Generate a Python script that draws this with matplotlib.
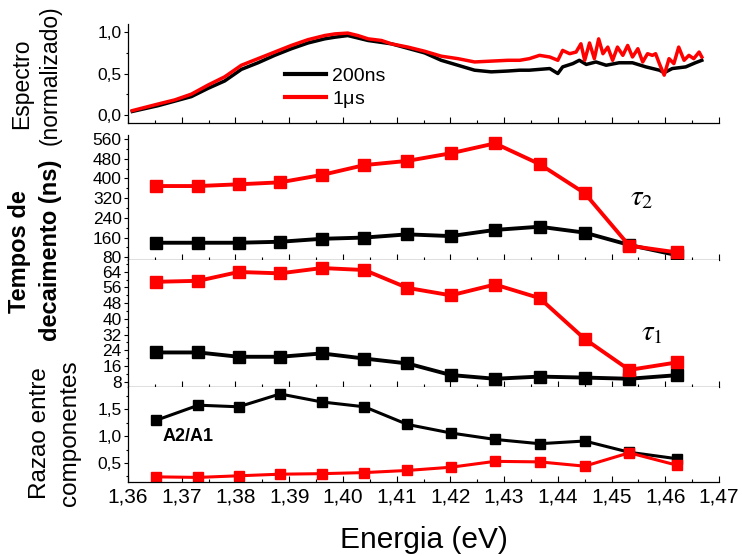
import numpy as np
import matplotlib.pyplot as plt
from matplotlib.ticker import MultipleLocator, FuncFormatter

plt.rcParams['font.family'] = ['Liberation Sans', 'DejaVu Sans']
plt.rcParams['mathtext.fontset'] = 'stix'

# spectra (normalized)
spec_E_200 = [1.3608, 1.3656, 1.3718, 1.3749, 1.3780, 1.3811, 1.3842, 1.3873, 1.3904, 1.3935,
              1.3966, 1.3985, 1.4009, 1.4047, 1.4090, 1.4152, 1.4183, 1.4214, 1.4245, 1.4276,
              1.4307, 1.4329, 1.4347, 1.4366, 1.4385, 1.4400, 1.4409, 1.4428, 1.4440, 1.4453,
              1.4471, 1.4490, 1.4514, 1.4539, 1.4564, 1.4589, 1.4598, 1.4613, 1.4638, 1.4656,
              1.4668]
spec_200 = [0.04, 0.11, 0.22, 0.32, 0.41, 0.55, 0.63, 0.72, 0.80, 0.87,
            0.92, 0.94, 0.96, 0.90, 0.86, 0.75, 0.66, 0.60, 0.54, 0.52,
            0.53, 0.54, 0.54, 0.55, 0.56, 0.50, 0.58, 0.62, 0.66, 0.61,
            0.64, 0.60, 0.63, 0.63, 0.58, 0.54, 0.51, 0.56, 0.58, 0.63,
            0.66]
spec_E_1us = [1.3608, 1.3632, 1.3656, 1.3687, 1.3718, 1.3749, 1.3780, 1.3811, 1.3842, 1.3873,
              1.3904, 1.3935, 1.3966, 1.3985, 1.4009, 1.4028, 1.4047, 1.4072, 1.4090, 1.4121,
              1.4152, 1.4183, 1.4214, 1.4245, 1.4276, 1.4307, 1.4329, 1.4347, 1.4366, 1.4385,
              1.4400, 1.4409, 1.4422, 1.4434, 1.4443, 1.4450, 1.4459, 1.4468, 1.4476, 1.4484,
              1.4493, 1.4502, 1.4511, 1.4521, 1.4530, 1.4539, 1.4549, 1.4558, 1.4567, 1.4576,
              1.4582, 1.4589, 1.4598, 1.4607, 1.4616, 1.4625, 1.4635, 1.4644, 1.4653, 1.4663,
              1.4668]
spec_1us = [0.05, 0.09, 0.13, 0.18, 0.25, 0.36, 0.46, 0.60, 0.68, 0.76,
            0.84, 0.91, 0.96, 0.98, 0.99, 0.96, 0.92, 0.90, 0.86, 0.82,
            0.77, 0.71, 0.68, 0.64, 0.65, 0.66, 0.66, 0.68, 0.72, 0.70,
            0.66, 0.78, 0.74, 0.76, 0.86, 0.66, 0.87, 0.68, 0.92, 0.74,
            0.82, 0.66, 0.82, 0.72, 0.84, 0.70, 0.80, 0.64, 0.74, 0.72,
            0.74, 0.62, 0.48, 0.68, 0.62, 0.82, 0.66, 0.72, 0.68, 0.76,
            0.70]

# decay fits
energy = [1.3653, 1.3731, 1.3806, 1.3883, 1.3961, 1.4040, 1.4120, 1.4201, 1.4283, 1.4366,
          1.4450, 1.4533, 1.4621]
tau2_200 = [139, 139, 139, 143, 155, 160, 173, 166, 191, 204, 180, 130, 89]
tau2_1us = [369, 369, 376, 384, 414, 454, 471, 502, 542, 458, 340, 127, 100]
tau1_200 = [22.9, 22.9, 20.7, 20.7, 22.4, 19.8, 17.3, 11.4, 9.5, 10.6, 10.1, 9.5, 11.3]
tau1_200_err = [1.8, 1.8, 0, 0, 0, 0, 0, 0, 0, 0, 0, 0, 0]
tau1_1us = [58.9, 59.4, 63.9, 63.2, 65.9, 64.9, 55.8, 52.0, 57.5, 50.6, 29.8, 14.0, 17.8]
tau1_1us_err = [0, 0, 0, 0, 0, 0, 0, 0, 0, 0, 0.9, 0, 0]
ratio_200 = [1.30, 1.58, 1.55, 1.79, 1.64, 1.55, 1.22, 1.06, 0.94, 0.86, 0.91, 0.70, 0.58]
ratio_1us = [0.24, 0.23, 0.26, 0.29, 0.30, 0.32, 0.36, 0.42, 0.53, 0.52, 0.44, 0.69, 0.46]

W, H = 742, 556
fig = plt.figure(figsize=(W / 100, H / 100), dpi=100)

def box(y0, y1):
    # pixel rows -> figure coords
    return [128 / W, 1 - y1 / H, (719 - 128) / W, (y1 - y0) / H]

ax0 = fig.add_axes(box(24, 123))
ax1 = fig.add_axes(box(135, 260))
ax2 = fig.add_axes(box(260, 387))
ax3 = fig.add_axes(box(387, 482))

comma1 = FuncFormatter(lambda v, p: ('%.1f' % v).replace('.', ','))
comma2 = FuncFormatter(lambda v, p: ('%.2f' % v).replace('.', ','))

for ax in (ax0, ax1, ax2, ax3):
    ax.set_xlim(1.36, 1.47)
    ax.spines['top'].set_visible(False)
    ax.spines['right'].set_visible(False)
    for s in ('left', 'bottom'):
        ax.spines[s].set_linewidth(0.9)
    ax.xaxis.set_major_locator(MultipleLocator(0.01))
    ax.xaxis.set_minor_locator(MultipleLocator(0.005))
    ax.tick_params(axis='x', which='major', direction='in', length=4, width=0.8)
    ax.tick_params(axis='x', which='minor', direction='in', length=2.5, width=0.8)
    ax.tick_params(axis='y', which='major', direction='out', length=3, width=0.8, pad=1.5, labelsize=12.5)
    ax.tick_params(axis='y', which='minor', direction='out', length=1.8, width=0.8)
    if ax is not ax3:
        ax.tick_params(axis='x', labelbottom=False)

# spectrum panel
ax0.plot(spec_E_200, spec_200, color='black', lw=2.5, label='200ns')
ax0.plot(spec_E_1us, spec_1us, color='red', lw=2.5, label=r'1$\mathregular{\mu}$s')
ax0.set_ylim(-0.1, 1.1)
ax0.yaxis.set_major_locator(MultipleLocator(0.5))
ax0.yaxis.set_minor_locator(MultipleLocator(0.25))
ax0.yaxis.set_major_formatter(comma1)
leg = ax0.legend(loc='upper left', bbox_to_anchor=(285 / W, 1 - 67 / H), bbox_transform=fig.transFigure,
                 frameon=False, fontsize=14, handlelength=2.1, handletextpad=0.3,
                 labelspacing=0.2, borderpad=0, borderaxespad=0)
for ln in leg.get_lines():
    ln.set_linewidth(3)

# tau2 panel
ax1.plot(energy, tau2_200, color='black', lw=2.8, marker='s', ms=8)
ax1.plot(energy, tau2_1us, color='red', lw=2.8, marker='s', ms=8)
ax1.set_ylim(69, 576)
ax1.yaxis.set_major_locator(MultipleLocator(80))
ax1.yaxis.set_minor_locator(MultipleLocator(40))
ax1.text(1.4535, 290, r'$\tau_2$', fontsize=21)

# tau1 panel
ax2.errorbar(energy, tau1_200, yerr=tau1_200_err, color='black', lw=2.8, marker='s', ms=8,
             elinewidth=8, capsize=0)
ax2.errorbar(energy, tau1_1us, yerr=tau1_1us_err, color='red', lw=2.8, marker='s', ms=8,
             elinewidth=8, capsize=0)
ax2.set_ylim(5.3, 70)
ax2.yaxis.set_major_locator(MultipleLocator(8))
ax2.yaxis.set_minor_locator(MultipleLocator(4))
ax2.text(1.4555, 29, r'$\tau_1$', fontsize=21)

# ratio panel
ax3.plot(energy, ratio_200, color='black', lw=2.2, marker='s', ms=7)
ax3.plot(energy, ratio_1us, color='red', lw=2.2, marker='s', ms=7)
ax3.set_ylim(0.144, 1.92)
ax3.yaxis.set_major_locator(MultipleLocator(0.5))
ax3.yaxis.set_minor_locator(MultipleLocator(0.25))
ax3.yaxis.set_major_formatter(comma1)
ax3.xaxis.set_major_formatter(comma2)
ax3.tick_params(axis='x', which='major', labelsize=15, pad=4)
ax3.text(1.3665, 1.0, 'A2/A1', fontsize=13, fontweight='bold', va='center')
ax3.set_xlabel('Energia (eV)', fontsize=21.5, labelpad=14)

# y labels
fig.text(22 / W, 1 - 84 / H, 'Espectro', rotation=90, ha='center', va='center', fontsize=16.5)
fig.text(50 / W, 1 - 75 / H, '(normalizado)', rotation=90, ha='center', va='center', fontsize=16.5)
fig.text(20 / W, 1 - 252 / H, 'Tempos de', rotation=90, ha='center', va='center', fontsize=17, fontweight='bold')
fig.text(51 / W, 1 - 250 / H, 'decaimento (ns)', rotation=90, ha='center', va='center', fontsize=17, fontweight='bold')
fig.text(40 / W, 1 - 433 / H, 'Razao entre', rotation=90, ha='center', va='center', fontsize=17.5)
fig.text(70 / W, 1 - 433 / H, 'componentes', rotation=90, ha='center', va='center', fontsize=17.5)

fig.savefig('out.png', dpi=100)
